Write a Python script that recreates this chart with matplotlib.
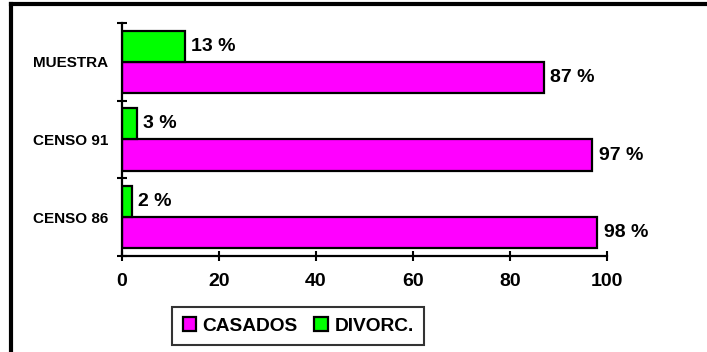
import matplotlib.pyplot as plt
from matplotlib.lines import Line2D
import numpy as np

plt.rcParams['font.family'] = ['Liberation Sans', 'DejaVu Sans']
plt.rcParams['font.weight'] = 'bold'

categorias = ['CENSO 86', 'CENSO 91', 'MUESTRA']
casados = [98, 97, 87]
divorc = [2, 3, 13]

fig = plt.figure(figsize=(7.07, 3.52), dpi=100)
ax = fig.add_axes([0.1726, 0.2727, 0.686, 0.662])

y = np.arange(len(categorias)) + 0.5
h = 0.4
b1 = ax.barh(y - h / 2, casados, height=h, color='#FF00FF', edgecolor='black',
             linewidth=1.6, label='CASADOS')
b2 = ax.barh(y + h / 2, divorc, height=h, color='#00FF00', edgecolor='black',
             linewidth=1.6, label='DIVORC.')

for bars, vals in ((b1, casados), (b2, divorc)):
    for bar, v in zip(bars, vals):
        ax.text(v + 1.3, bar.get_y() + bar.get_height() / 2, f'{v} %',
                va='center', ha='left', fontsize=14, fontweight='bold')

ax.set_xlim(0, 100)
ax.set_ylim(0, 3)
ax.set_xticks([0, 20, 40, 60, 80, 100])
ax.tick_params(axis='x', labelsize=14, direction='inout', length=7, width=1.5, pad=9)
ax.set_yticks([0, 1, 2, 3])
ax.set_yticklabels([])
ax.set_yticks(y, minor=True)
ax.set_yticklabels(categorias, minor=True)
ax.tick_params(axis='y', which='major', direction='inout', length=7, width=1.5)
ax.tick_params(axis='y', which='minor', length=0, labelsize=11, pad=10)

for s in ['top', 'right']:
    ax.spines[s].set_visible(False)
for s in ['left', 'bottom']:
    ax.spines[s].set_linewidth(1.6)

leg = fig.legend(handles=[b1, b2], loc='center left', bbox_to_anchor=(0.2433, 0.0739),
                 ncol=2, fontsize=13.8, frameon=True, fancybox=False,
                 handlelength=0.7, handleheight=0.7, handletextpad=0.35,
                 columnspacing=0.85, borderpad=0.55, borderaxespad=0)
leg.get_frame().set_edgecolor('black')
leg.get_frame().set_linewidth(1.5)

# marco exterior (solo superior e izquierdo visibles)
fig.add_artist(Line2D([0.0155, 1.0], [0.9886, 0.9886], color='black', linewidth=3,
                      transform=fig.transFigure))
fig.add_artist(Line2D([0.0155, 0.0155], [0.0, 0.9886], color='black', linewidth=3,
                      transform=fig.transFigure))

fig.savefig('out.png', dpi=100)
